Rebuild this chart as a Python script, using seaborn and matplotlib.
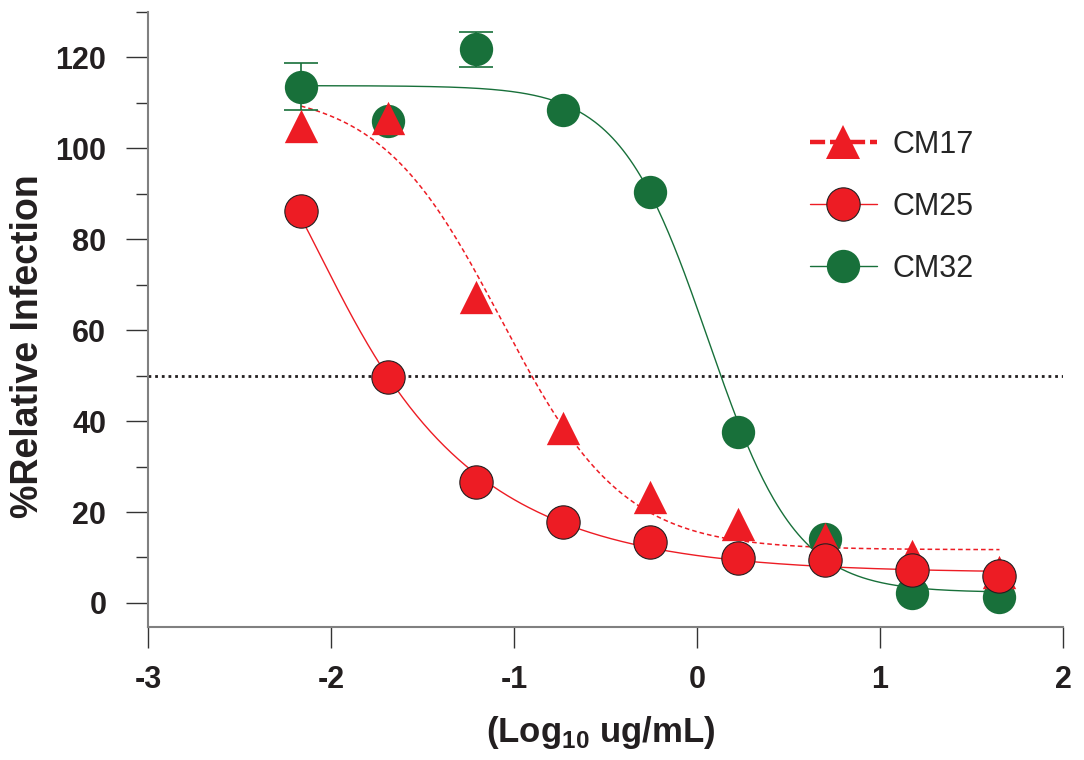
import numpy as np
import pandas as pd
import seaborn as sns
from matplotlib import pyplot as plt
from matplotlib.lines import Line2D

# log10 concentration (ug/mL), 3-fold dilution series
log_conc = [-2.164, -1.686, -1.209, -0.732, -0.255, 0.222, 0.699, 1.176, 1.653]

# % relative infection
cm17 = [105.0, 106.6, 67.4, 38.4, 23.2, 17.4, 14.1, 10.4, 6.8]
cm25 = [86.3, 49.8, 26.6, 17.7, 13.3, 9.8, 9.5, 7.3, 5.9]
cm32 = [113.6, 106.0, 121.8, 108.4, 90.5, 37.6, 14.0, 2.1, 1.2]
cm32_err = [5.1, 0, 3.9, 0, 0, 0, 0, 0, 0]

# fitted dose-response curves: top, bottom, logIC50, hill slope, asymmetry
names = ['CM17', 'CM25', 'CM32']
fit_top = [113.0, 110.0, 113.8]
fit_bottom = [11.7, 6.6, 2.3]
fit_logic50 = [-1.07, -2.29, 0.06]
fit_hill = [1.3, 2.5, 1.8]
fit_asym = [1.0, 0.25, 1.0]

threshold = 50

RED = '#ED1C24'
GREEN = '#18703A'
EDGE = '#231F20'


def dose_response(x, top, bottom, logic50, hill, asym):
    return bottom + (top - bottom) / (1 + 10 ** (hill * (x - logic50))) ** asym


sns.set_style("ticks")
plt.rcParams['font.family'] = ['Liberation Sans', 'DejaVu Sans']
plt.rcParams['axes.unicode_minus'] = False
plt.rcParams['mathtext.fontset'] = 'custom'
plt.rcParams['mathtext.rm'] = 'Liberation Sans'
plt.rcParams['mathtext.bf'] = 'Liberation Sans:bold'

fig = plt.figure(figsize=(10.84, 7.6), dpi=100)
ax = fig.add_axes([0.1365, 0.175, 0.8441, 0.8092])

# fitted curves
xx = np.linspace(min(log_conc), max(log_conc), 400)
curves = []
for i, name in enumerate(names):
    yy = dose_response(xx, fit_top[i], fit_bottom[i], fit_logic50[i], fit_hill[i], fit_asym[i])
    curves.append(pd.DataFrame({'x': xx, 'y': yy, 'name': name}))
curves = pd.concat(curves)

sns.lineplot(data=curves[curves.name == 'CM17'], x='x', y='y', color=RED, linewidth=1.1,
             linestyle=(0, (3, 2)), sort=False, estimator=None, ax=ax, zorder=2)
sns.lineplot(data=curves[curves.name == 'CM25'], x='x', y='y', color=RED, linewidth=1.0,
             sort=False, estimator=None, ax=ax, zorder=2)
sns.lineplot(data=curves[curves.name == 'CM32'], x='x', y='y', color=GREEN, linewidth=1.0,
             sort=False, estimator=None, ax=ax, zorder=2)

# 50% line
ax.axhline(threshold, color=EDGE, linewidth=2.0, linestyle=(0, (1, 1.4)), zorder=1)

# error bars (only where there is one)
idx = [i for i, e in enumerate(cm32_err) if e > 0]
ax.errorbar([log_conc[i] for i in idx], [cm32[i] for i in idx], yerr=[cm32_err[i] for i in idx],
            fmt='none', ecolor=GREEN, elinewidth=1.2, capsize=12, capthick=1.2, zorder=3)

# points
sns.scatterplot(x=log_conc, y=cm32, color=GREEN, marker='o', s=576, linewidth=0, ax=ax, zorder=4)
sns.scatterplot(x=log_conc, y=cm17, color=RED, marker='^', s=576, linewidth=0, ax=ax, zorder=5)
sns.scatterplot(x=log_conc, y=cm25, color=RED, marker='o', s=576, edgecolor=EDGE, linewidth=0.8,
                ax=ax, zorder=6)

ax.set_xlim(-3, 2)
ax.set_ylim(-5.3, 130)
ax.set_xticks(range(-3, 3))
ax.set_yticks(range(0, 121, 20))
ax.set_yticks(range(10, 131, 20), minor=True)

ax.tick_params(axis='x', which='major', length=15, width=1, color='#333333', pad=12, labelsize=22)
ax.tick_params(axis='y', which='major', length=16, width=1, color='#333333', pad=14, labelsize=22)
ax.tick_params(axis='y', which='minor', length=8.5, width=1, color='#333333')
for lbl in ax.get_xticklabels() + ax.get_yticklabels():
    lbl.set_fontweight('bold')
    lbl.set_color('#231F20')

for side in ['top', 'right']:
    ax.spines[side].set_visible(False)
for side in ['left', 'bottom']:
    ax.spines[side].set_color('#808080')
    ax.spines[side].set_linewidth(1.5)

ax.set_xlabel(r'(Log$_{\mathbf{10}}$ ug/mL)', fontsize=25, fontweight='bold', color='#231F20',
              va='top')
ax.xaxis.set_label_coords(0.4945, -0.142)
ax.set_ylabel('%Relative Infection', fontsize=27, fontweight='bold', color='#231F20', va='center')
ax.yaxis.set_label_coords(-0.131, 0.457)

handles = [
    Line2D([], [], color=RED, linewidth=3.2, linestyle=(0, (3.4, 1.1)), marker='^',
           markersize=24, markeredgewidth=0),
    Line2D([], [], color=RED, linewidth=1.0, marker='o', markersize=24,
           markeredgecolor=EDGE, markeredgewidth=0.8),
    Line2D([], [], color=GREEN, linewidth=1.0, marker='o', markersize=24, markeredgewidth=0),
]
ax.legend(handles, names, loc='upper left', bbox_to_anchor=(810 / 1084, 1 - 130 / 760),
          bbox_transform=fig.transFigure, frameon=False, fontsize=22, borderpad=0,
          borderaxespad=0, handlelength=2.19, handletextpad=0.52, labelspacing=1.05)

fig.savefig('out.png', dpi=100)
plt.close()
